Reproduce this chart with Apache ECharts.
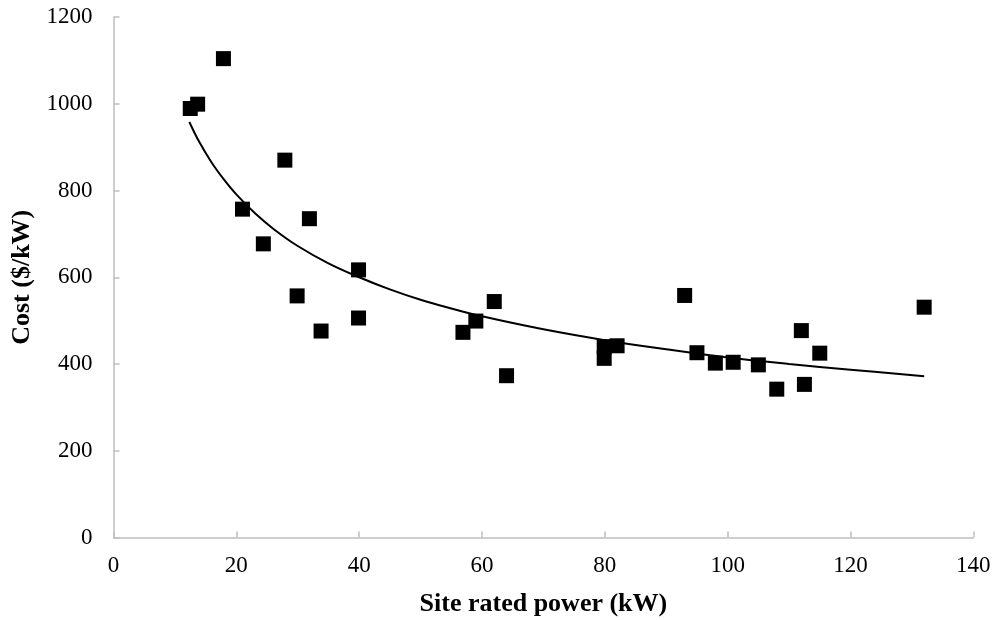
<!DOCTYPE html>
<html>
<head>
<meta charset="utf-8">
<script src="https://cdn.jsdelivr.net/npm/echarts@6/dist/echarts.min.js"></script>
<style>
html,body{margin:0;padding:0;background:#fff;}
#chart{width:996px;height:620px;}
</style>
</head>
<body>
<div id="chart"></div>
<script>
// Site rated power (kW)
var powerKW = [12.5, 13.7, 17.9, 21.0, 24.4, 27.9, 29.9, 31.9, 33.8, 39.9, 39.9,
  56.9, 59.0, 62.0, 64.0, 79.9, 79.9, 82.0, 93.0, 95.0, 98.0, 100.9, 105.0,
  108.0, 112.0, 112.5, 115.0, 132.0];
// Cost ($/kW)
var costPerKW = [989, 999, 1104, 757, 677, 870, 557, 735, 476, 617, 506,
  473, 499, 544, 373, 440, 413, 442, 558, 426, 402, 404, 398,
  342, 477, 353, 425, 531];
// Trend line
var trendX = [12.35, 14, 16, 18, 20, 23, 26, 30, 35, 40, 45, 50, 55, 60, 70, 80, 90, 100, 110, 120, 132];
var trendY = [958, 911, 864, 825, 791, 748, 712, 672, 632, 600, 572, 548, 528, 510, 480, 455, 434, 415, 400, 387, 372];

var xTicks = [0, 20, 40, 60, 80, 100, 120, 140];
var yTicks = [0, 200, 400, 600, 800, 1000, 1200];

var scatterData = powerKW.map(function (x, i) { return [x, costPerKW[i]]; });
var trendData = trendX.map(function (x, i) { return [x, trendY[i]]; });

var chart = echarts.init(document.getElementById('chart'));
var labelFont = { fontFamily: 'Liberation Serif', fontSize: 23, color: '#000' };
var titleFont = { fontFamily: 'Liberation Serif', fontSize: 26, fontWeight: 'bold', color: '#000' };
var axisLineStyle = { color: '#bfbfbf', width: 1.5 };
chart.setOption({
  animation: false,
  backgroundColor: '#fff',
  grid: { left: 113.5, right: 22.7, top: 17, bottom: 82.5, containLabel: false, outerBoundsMode: 'none' },
  xAxis: {
    type: 'value', min: xTicks[0], max: xTicks[xTicks.length - 1], interval: 20,
    name: 'Site rated power (kW)', nameLocation: 'middle', nameGap: 54,
    nameTextStyle: titleFont,
    axisLine: { show: true, lineStyle: axisLineStyle },
    axisTick: { show: true, inside: true, length: 6, lineStyle: axisLineStyle },
    axisLabel: Object.assign({ margin: 17, formatter: function (v) { return String(v); } }, labelFont),
    splitLine: { show: false }
  },
  yAxis: {
    type: 'value', min: yTicks[0], max: yTicks[yTicks.length - 1], interval: 200,
    name: 'Cost ($/kW)', nameLocation: 'middle', nameGap: 77,
    nameTextStyle: titleFont,
    axisLine: { show: true, lineStyle: axisLineStyle },
    axisTick: { show: true, inside: true, length: 6, lineStyle: axisLineStyle },
    axisLabel: Object.assign({ margin: 21, formatter: function (v) { return String(v); } }, labelFont),
    splitLine: { show: false }
  },
  series: [
    {
      type: 'line', data: trendData, smooth: 0.4, showSymbol: false, symbol: 'none',
      lineStyle: { color: '#000', width: 2 }, z: 2
    },
    {
      type: 'scatter', data: scatterData, symbol: 'rect', symbolSize: 15,
      itemStyle: { color: '#000', opacity: 1 }, z: 3
    }
  ]
});
</script>
</body>
</html>
